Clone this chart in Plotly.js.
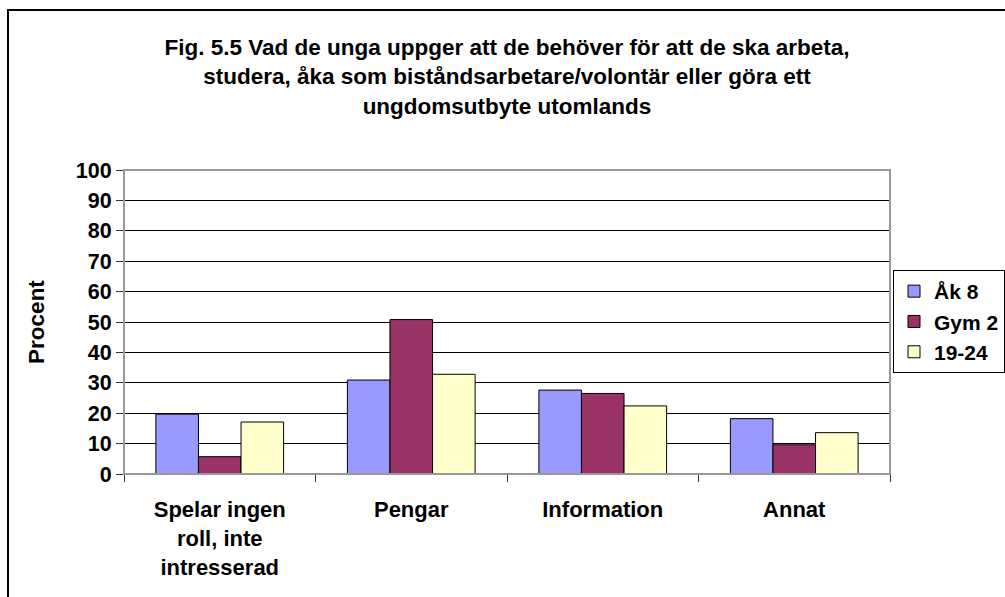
<!DOCTYPE html>
<html>
<head>
<meta charset="utf-8">
<script src="https://cdn.plot.ly/plotly-3.0.1.min.js"></script>
<style>html,body{margin:0;padding:0;background:#fff;}#chart{width:1005px;height:597px;}</style>
</head>
<body>
<div id="chart"></div>
<script>
const categories = ["Spelar ingen<br>roll, inte<br>intresserad", "Pengar", "Information", "Annat"];
const seriesNames = ["Åk 8", "Gym 2", "19-24"];
const ak8 = [19.7, 30.9, 27.6, 18.2];
const gym2 = [5.7, 50.8, 26.5, 9.6];
const y1924 = [17.1, 32.8, 22.4, 13.6];
const colors = ["#9999FF", "#993366", "#FFFFCC"];
const yTicks = [0,10,20,30,40,50,60,70,80,90,100];

const F = "Liberation Sans, Arial, sans-serif";
const values = [ak8, gym2, y1924];
const traces = values.map((v, i) => ({
  type: 'bar', name: '<b>' + seriesNames[i] + '</b>', x: categories, y: v,
  marker: {color: colors[i], line: {color: '#000', width: 1}},
  hoverinfo: 'x+y'
}));

const L = 124, R = 890, T = 170, B = 474, W = 1005, H = 597;
const pw = R - L, ph = B - T;
const px = v => (v - L) / pw;
const py = v => (B - v) / ph;

const layout = {
  width: W, height: H,
  margin: {l: L, r: W - R, t: T, b: H - B, pad: 0, autoexpand: false},
  paper_bgcolor: '#fff', plot_bgcolor: '#fff',
  font: {family: F, color: '#000'},
  barmode: 'group', bargap: 0.333, bargroupgap: 0,
  title: {
    text: "<b>Fig. 5.5 Vad de unga uppger att de behöver för att de ska arbeta,<br>studera, åka som biståndsarbetare/volontär eller göra ett<br>ungdomsutbyte utomlands</b>",
    font: {family: F, size: 22.5, color: '#000'},
    x: 0.5, xref: 'paper', xanchor: 'center',
    y: 1 - 55 / H, yref: 'container', yanchor: 'top'
  },
  xaxis: {
    type: 'category', showgrid: false, showline: true, linecolor: '#333', linewidth: 1,
    ticks: 'outside', tickson: 'boundaries', ticklen: 7, tickcolor: '#333',
    ticklabelstandoff: 16,
    tickvals: categories, ticktext: categories.map(c => '<b>' + c + '</b>'),
    tickfont: {family: F, size: 22, color: '#000'}, zeroline: false, fixedrange: true
  },
  yaxis: {
    range: [0, 100], tickvals: yTicks, ticktext: yTicks.map(t => '<b>' + t + '</b>'),
    showgrid: true, gridcolor: '#000', gridwidth: 1,
    showline: true, linecolor: '#333', linewidth: 1,
    ticks: 'outside', ticklen: 7, tickcolor: '#333',
    tickfont: {family: F, size: 21.5, color: '#000'}, zeroline: false,
    title: {text: '<b>Procent</b>', font: {family: F, size: 22.5, color: '#000'}, standoff: 24},
    fixedrange: true
  },
  legend: {
    x: px(893), y: py(270), xanchor: 'left', yanchor: 'top',
    bordercolor: '#000', borderwidth: 1, bgcolor: '#fff',
    font: {family: F, size: 21, color: '#000'}, tracegroupgap: 0, itemwidth: 30
  },
  showlegend: true,
  shapes: [
    {type: 'rect', xref: 'paper', yref: 'paper', x0: 0, x1: 1, y0: 0, y1: 1,
     line: {color: '#999', width: 2}, fillcolor: 'rgba(0,0,0,0)', layer: 'above'},
    {type: 'rect', xref: 'paper', yref: 'paper', x0: px(8), x1: px(1100), y0: py(10), y1: py(700),
     line: {color: '#000', width: 2}, fillcolor: 'rgba(0,0,0,0)', layer: 'above'}
  ]
};
Plotly.newPlot('chart', traces, layout, {displayModeBar: false, staticPlot: true});
</script>
</body>
</html>
